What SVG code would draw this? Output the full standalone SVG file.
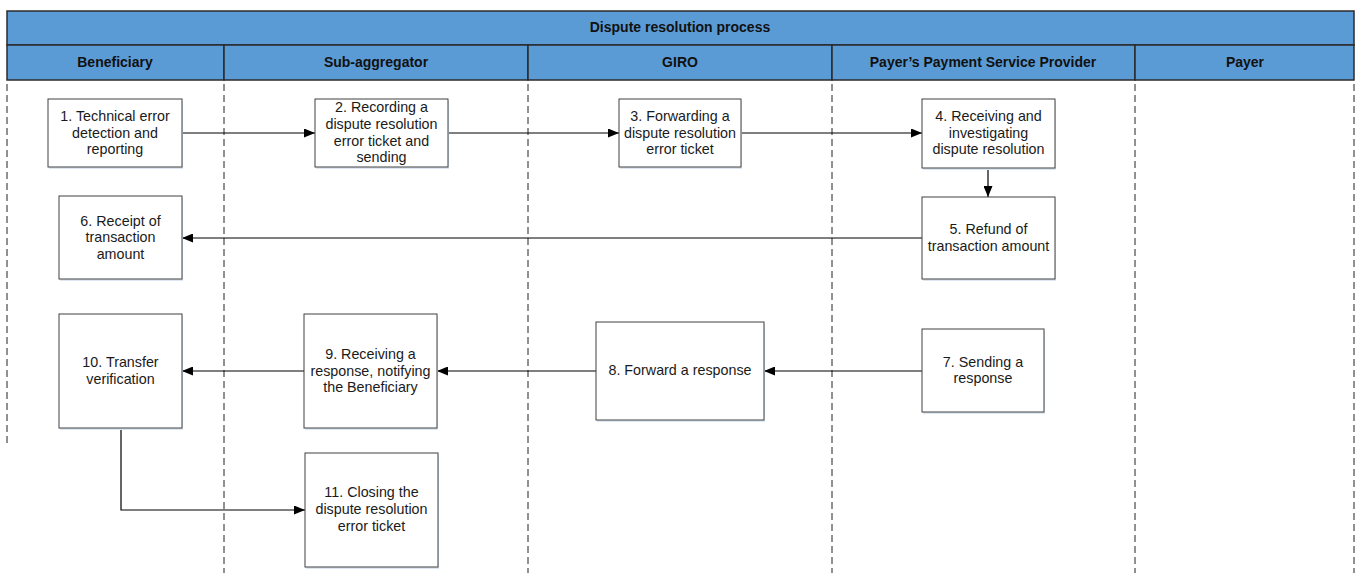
<svg xmlns="http://www.w3.org/2000/svg" width="1357" height="573" viewBox="0 0 1357 573">
<style>
  .band { fill: #5B9BD5; stroke: #2b2b2b; stroke-width: 1.5; }
  .hdr { font-family: "Liberation Sans", Arial, sans-serif; font-size: 14px; font-weight: bold; fill: #111; text-anchor: middle; }
  .lane { stroke: #222222; stroke-width: 1; stroke-dasharray: 7 4; fill: none; }
  .box { fill: #ffffff; stroke: #404040; stroke-width: 1; }
  .shadow { fill: #dce7f2; stroke: none; }
  .lbl { font-family: "Liberation Sans", Arial, sans-serif; font-size: 14.3px; fill: #1a1a1a; text-anchor: middle; }
  .conn { stroke: #000; stroke-width: 1.2; fill: none; marker-end: url(#arrow); }
</style>
<defs>
  <marker id="arrow" markerUnits="userSpaceOnUse" markerWidth="11" markerHeight="9" refX="11" refY="4.5" orient="auto">
    <path d="M0,0 L11,4.5 L0,9 z" fill="#000"/>
  </marker>
</defs>
<rect width="1357" height="573" fill="#ffffff"/>

<g id="header">
  <rect class="band" x="7" y="11" width="1347" height="34"/>
  <text class="hdr" x="680" y="32">Dispute resolution process</text>
  <rect class="band" x="7" y="45" width="217" height="35"/>
  <rect class="band" x="224" y="45" width="304" height="35"/>
  <rect class="band" x="528" y="45" width="304" height="35"/>
  <rect class="band" x="832" y="45" width="303" height="35"/>
  <rect class="band" x="1135" y="45" width="219" height="35"/>
  <text class="hdr" x="115" y="67">Beneficiary</text>
  <text class="hdr" x="376" y="67">Sub-aggregator</text>
  <text class="hdr" x="680" y="67">GIRO</text>
  <text class="hdr" x="983" y="67">Payer’s Payment Service Provider</text>
  <text class="hdr" x="1245" y="67">Payer</text>
</g>

<g id="lanes">
  <line class="lane" x1="7" y1="84" x2="7" y2="443"/>
  <line class="lane" x1="224" y1="84" x2="224" y2="573"/>
  <line class="lane" x1="528" y1="84" x2="528" y2="573"/>
  <line class="lane" x1="832" y1="84" x2="832" y2="573"/>
  <line class="lane" x1="1135" y1="84" x2="1135" y2="573"/>
  <line class="lane" x1="1354" y1="84" x2="1354" y2="573"/>
</g>

<g id="connectors">
  <line class="conn" x1="182" y1="133" x2="315" y2="133"/>
  <line class="conn" x1="448" y1="133" x2="619" y2="133"/>
  <line class="conn" x1="741" y1="133" x2="922" y2="133"/>
  <line class="conn" x1="988" y1="168" x2="988" y2="197"/>
  <line class="conn" x1="922" y1="238" x2="182" y2="238"/>
  <line class="conn" x1="922" y1="371" x2="764" y2="371"/>
  <line class="conn" x1="596" y1="371" x2="437" y2="371"/>
  <line class="conn" x1="304" y1="371" x2="182" y2="371"/>
  <polyline class="conn" points="121,428 121,510 305,510"/>
</g>

<g id="n1">
  <rect class="shadow" x="49" y="101" width="134" height="68"/>
  <rect class="box" x="48" y="99" width="134" height="68"/>
  <text class="lbl" x="115" y="121">1. Technical error</text>
  <text class="lbl" x="115" y="137.7">detection and</text>
  <text class="lbl" x="115" y="154.4">reporting</text>
</g>
<g id="n2">
  <rect class="shadow" x="316" y="101" width="133" height="68"/>
  <rect class="box" x="315" y="99" width="133" height="68"/>
  <text class="lbl" x="381.5" y="112.2">2. Recording a</text>
  <text class="lbl" x="381.5" y="128.9">dispute resolution</text>
  <text class="lbl" x="381.5" y="145.6">error ticket and</text>
  <text class="lbl" x="381.5" y="162.3">sending</text>
</g>
<g id="n3">
  <rect class="shadow" x="620" y="101" width="122" height="68"/>
  <rect class="box" x="619" y="99" width="122" height="68"/>
  <text class="lbl" x="680" y="121">3. Forwarding a</text>
  <text class="lbl" x="680" y="137.7">dispute resolution</text>
  <text class="lbl" x="680" y="154.4">error ticket</text>
</g>
<g id="n4">
  <rect class="shadow" x="923" y="101" width="133" height="69"/>
  <rect class="box" x="922" y="99" width="133" height="69"/>
  <text class="lbl" x="988.5" y="121">4. Receiving and</text>
  <text class="lbl" x="988.5" y="137.7">investigating</text>
  <text class="lbl" x="988.5" y="154.4">dispute resolution</text>
</g>
<g id="n5">
  <rect class="shadow" x="923" y="199" width="133" height="82"/>
  <rect class="box" x="922" y="197" width="133" height="82"/>
  <text class="lbl" x="988.5" y="234">5. Refund of</text>
  <text class="lbl" x="988.5" y="250.7">transaction amount</text>
</g>
<g id="n6">
  <rect class="shadow" x="60" y="198" width="123" height="83"/>
  <rect class="box" x="59" y="196" width="123" height="83"/>
  <text class="lbl" x="120.5" y="225.5">6. Receipt of</text>
  <text class="lbl" x="120.5" y="242.2">transaction</text>
  <text class="lbl" x="120.5" y="258.9">amount</text>
</g>
<g id="n7">
  <rect class="shadow" x="923" y="331" width="122" height="83"/>
  <rect class="box" x="922" y="329" width="122" height="83"/>
  <text class="lbl" x="983" y="366.7">7. Sending a</text>
  <text class="lbl" x="983" y="383.4">response</text>
</g>
<g id="n8">
  <rect class="shadow" x="597" y="324" width="168" height="98"/>
  <rect class="box" x="596" y="322" width="168" height="98"/>
  <text class="lbl" x="680" y="375">8. Forward a response</text>
</g>
<g id="n9">
  <rect class="shadow" x="305" y="316" width="133" height="114"/>
  <rect class="box" x="304" y="314" width="133" height="114"/>
  <text class="lbl" x="370.5" y="358.8">9. Receiving a</text>
  <text class="lbl" x="370.5" y="375.5">response, notifying</text>
  <text class="lbl" x="370.5" y="392.2">the Beneficiary</text>
</g>
<g id="n10">
  <rect class="shadow" x="60" y="316" width="123" height="114"/>
  <rect class="box" x="59" y="314" width="123" height="114"/>
  <text class="lbl" x="120.5" y="366.8">10. Transfer</text>
  <text class="lbl" x="120.5" y="383.5">verification</text>
</g>
<g id="n11">
  <rect class="shadow" x="306" y="455" width="133" height="114"/>
  <rect class="box" x="305" y="453" width="133" height="114"/>
  <text class="lbl" x="371.5" y="497.3">11. Closing the</text>
  <text class="lbl" x="371.5" y="514">dispute resolution</text>
  <text class="lbl" x="371.5" y="530.7">error ticket</text>
</g>
</svg>
